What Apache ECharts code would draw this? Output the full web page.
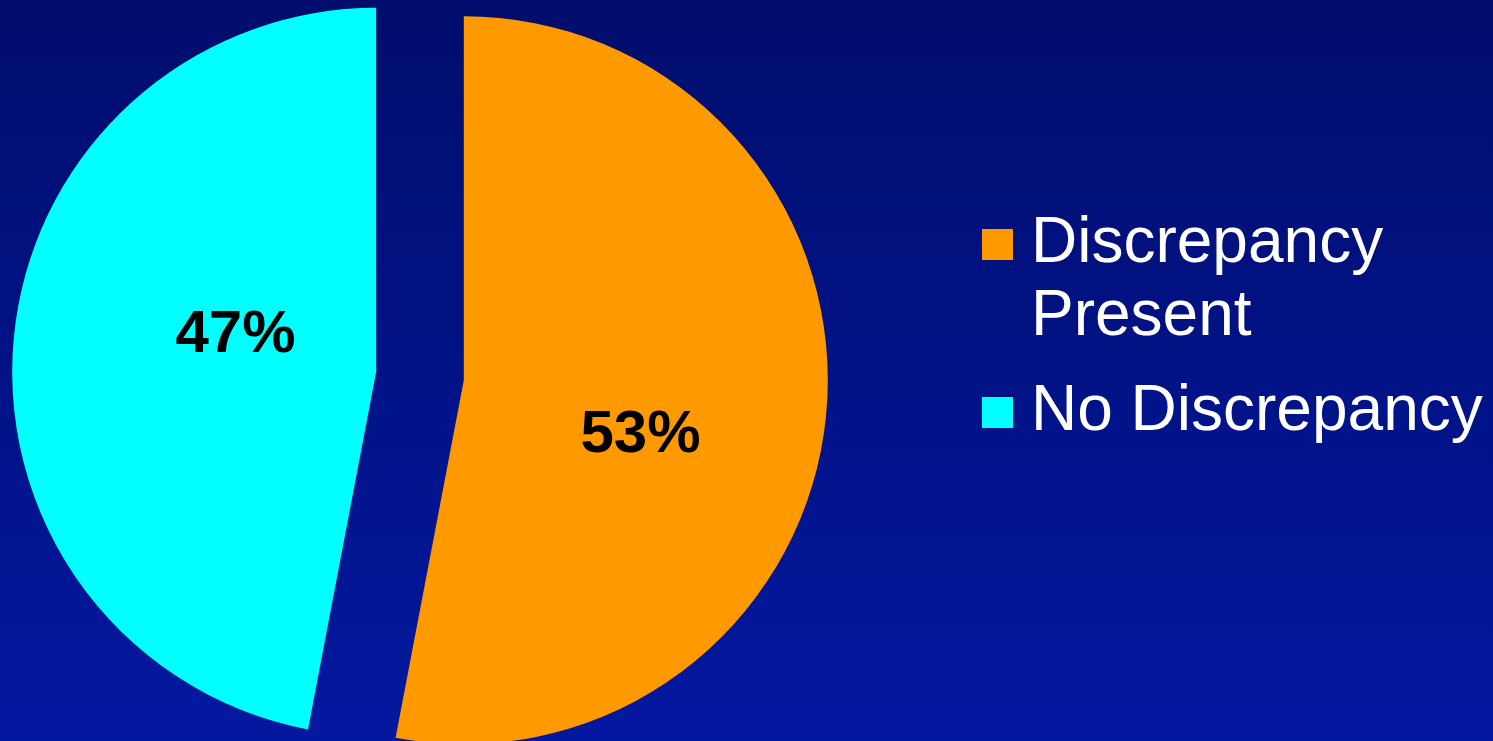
<!DOCTYPE html>
<html>
<head>
<meta charset="utf-8">
<script src="https://cdn.jsdelivr.net/npm/echarts@6/dist/echarts.min.js"></script>
<style>
html,body{margin:0;padding:0;width:100%;height:100%;overflow:hidden;}
#main{width:1493px;height:741px;}
</style>
</head>
<body>
<div id="main"></div>
<script>
const categories = ['Discrepancy Present', 'No Discrepancy'];
const legendLines = [['Discrepancy', 'Present'], ['No Discrepancy']];
const values = [53, 47];
const colors = ['#FF9900', '#00FFFF'];

const FONT = "'Liberation Sans', Arial, sans-serif";
const chart = echarts.init(document.getElementById('main'));

function legendText(name) {
  const lines = legendLines[categories.indexOf(name)];
  const body = lines.map(function (l) { return '{g| }{a|' + l + '}'; });
  if (lines.length > 1) body.unshift('{b| }');
  return body.join('\n');
}

// rich spacers nudge each label inside its slice
const labelFormats = [
  function (p) { return '{v| }\n{t|' + p.percent + '%}{h1| }'; },
  function (p) { return '{h2| }{t|' + p.percent + '%}\n{u| }'; }
];

const option = {
  backgroundColor: {
    type: 'linear', x: 0, y: 0, x2: 0, y2: 1,
    colorStops: [{offset: 0, color: '#000D6C'}, {offset: 1, color: '#0318A0'}]
  },
  animation: false,
  legend: {
    orient: 'vertical', left: 977, top: 130,
    icon: 'rect', itemWidth: 31, itemHeight: 31, itemGap: 22,
    selectedMode: false,
    formatter: legendText,
    textStyle: {
      color: '#FFFFFF', fontSize: 64, fontFamily: FONT, lineHeight: 73,
      rich: {
        a: {color: '#FFFFFF', fontSize: 64, fontFamily: FONT, lineHeight: 73},
        b: {fontSize: 64, fontFamily: FONT, lineHeight: 73},
        g: {width: 13, fontSize: 64, lineHeight: 73}
      }
    },
    data: categories
  },
  series: [{
    type: 'pie',
    center: [420, 376],
    radius: 364,
    startAngle: 90,
    clockwise: true,
    selectedMode: 'multiple',
    selectedOffset: 44,
    silent: true,
    label: {
      show: true, position: 'inside',
      color: '#000000', fontSize: 60, fontWeight: 'bold', fontFamily: FONT,
      rich: {
        t: {color: '#000000', fontSize: 60, fontWeight: 'bold', fontFamily: FONT, lineHeight: 70},
        v: {fontSize: 10, lineHeight: 76, height: 76},
        u: {fontSize: 10, lineHeight: 38, height: 38},
        h1: {fontSize: 10, width: 15},
        h2: {fontSize: 10, width: 87}
      }
    },
    labelLine: {show: false},
    emphasis: {disabled: true},
    data: categories.map(function (c, i) {
      return {
        name: c, value: values[i], selected: true,
        itemStyle: {color: colors[i]},
        label: {formatter: labelFormats[i]}
      };
    })
  }]
};
chart.setOption(option);
</script>
</body>
</html>
